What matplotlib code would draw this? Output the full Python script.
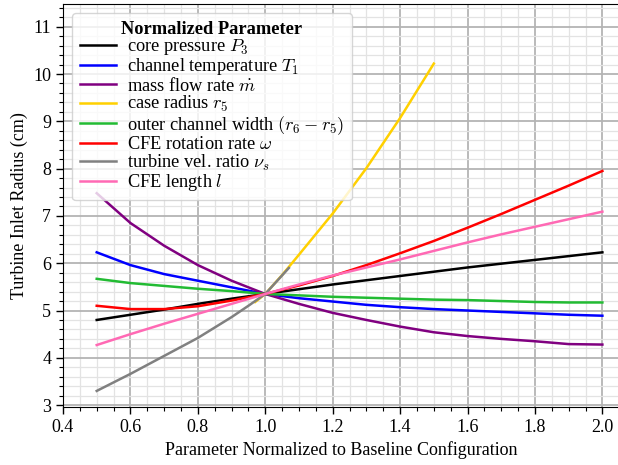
import matplotlib
matplotlib.use("Agg")
import matplotlib.pyplot as plt
from matplotlib.ticker import MultipleLocator

plt.rcParams['font.family'] = 'serif'
plt.rcParams['font.serif'] = ['Liberation Serif', 'DejaVu Serif']
plt.rcParams['mathtext.fontset'] = 'cm'

x_full = [0.5, 0.6, 0.7, 0.8, 0.9, 1.0, 1.1, 1.2, 1.3, 1.4, 1.5, 1.6, 1.7, 1.8, 1.9, 2.0]
core_pressure = [4.80, 4.91, 5.02, 5.14, 5.25, 5.35, 5.45, 5.55, 5.64, 5.73, 5.82, 5.91, 5.99, 6.07, 6.15, 6.23]
channel_temp = [6.23, 5.96, 5.77, 5.63, 5.49, 5.35, 5.26, 5.19, 5.12, 5.07, 5.03, 5.00, 4.97, 4.94, 4.91, 4.89]
mass_flow = [7.48, 6.85, 6.37, 5.96, 5.63, 5.35, 5.14, 4.95, 4.80, 4.66, 4.54, 4.46, 4.40, 4.35, 4.29, 4.28]
outer_width = [5.67, 5.58, 5.52, 5.46, 5.41, 5.35, 5.32, 5.29, 5.27, 5.25, 5.23, 5.22, 5.20, 5.18, 5.17, 5.17]
rotation = [5.10, 5.03, 5.03, 5.09, 5.21, 5.35, 5.53, 5.73, 5.96, 6.21, 6.47, 6.75, 7.04, 7.34, 7.64, 7.95]
cfe_length = [4.27, 4.50, 4.72, 4.93, 5.14, 5.35, 5.55, 5.74, 5.91, 6.08, 6.26, 6.44, 6.61, 6.77, 6.93, 7.09]

x_case = [0.97, 1.0, 1.05, 1.1, 1.2, 1.3, 1.4, 1.5]
case_radius = [5.18, 5.35, 5.75, 6.18, 7.05, 8.01, 9.07, 10.22]

x_vel = [0.5, 0.6, 0.7, 0.8, 0.9, 0.95, 1.0, 1.07]
vel_ratio = [3.30, 3.66, 4.04, 4.42, 4.86, 5.10, 5.35, 5.90]

labels = [r'core pressure $P_3$', r'channel temperature $T_1$', r'mass flow rate $\dot{m}$',
          r'case radius $r_5$', r'outer channel width $(r_6 - r_5)$', r'CFE rotation rate $\omega$',
          r'turbine vel. ratio $\nu_s$', r'CFE length $l$']
colors = ['black', '#0000ff', '#800080', '#ffd000', '#22bb33', '#ff0000', '#808080', '#ff69b4']

fig = plt.figure(figsize=(6.18, 4.65), dpi=100)
ax = fig.add_axes([63/618, 58/465, 1 - 63/618 + 0.002, (407-4)/465])

series = [(x_full, core_pressure), (x_full, channel_temp), (x_full, mass_flow),
          (x_case, case_radius), (x_full, outer_width), (x_full, rotation),
          (x_vel, vel_ratio), (x_full, cfe_length)]
for (xs, ys), lab, c in zip(series, labels, colors):
    ax.plot(xs, ys, color=c, lw=1.8, label=lab)

ax.set_xlim(0.4, 2.05)
ax.set_ylim(2.96, 11.48)
ax.xaxis.set_major_locator(MultipleLocator(0.2))
ax.xaxis.set_minor_locator(MultipleLocator(0.05))
ax.yaxis.set_major_locator(MultipleLocator(1))
ax.yaxis.set_minor_locator(MultipleLocator(0.2))
ax.grid(which='major', color='#b4b4b4', lw=1.3)
ax.grid(which='minor', color='#e3e3e3', lw=0.9)
ax.set_axisbelow(True)
ax.spines['right'].set_visible(False)
ax.tick_params(which='major', length=5, width=1, labelsize=13, direction='out')
ax.tick_params(which='minor', length=3, width=0.8, direction='out')
ax.set_xlabel('Parameter Normalized to Baseline Configuration', fontsize=13)
ax.set_ylabel('Turbine Inlet Radius (cm)', fontsize=13)

leg = ax.legend(loc='upper left', title='Normalized Parameter', fontsize=13.2,
                title_fontproperties={'weight': 'bold', 'size': 13.2},
                framealpha=0.8, handlelength=2.0, labelspacing=-0.03,
                handletextpad=0.6, borderpad=0.4, bbox_to_anchor=(0.0, 1.0))

fig.savefig('out.png', dpi=100)
